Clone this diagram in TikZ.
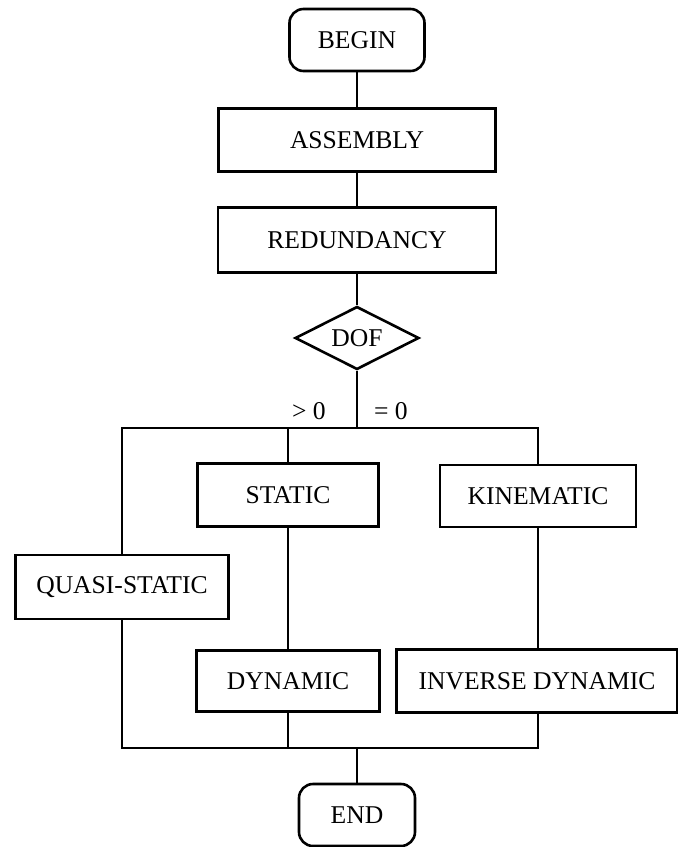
\documentclass[tikz,border=0pt]{standalone}
\usepackage{fontspec}
\setmainfont{Liberation Serif}
\usetikzlibrary{shapes.geometric}
\tikzset{
	flowbox/.style={draw,line width=1.3pt,inner sep=0pt,font=\fontsize{12.8}{15}\selectfont},
	termbox/.style={flowbox,rounded corners=7pt},
	testbox/.style={flowbox,diamond,aspect=1.97,minimum width=62pt,minimum height=31.5pt},
	caselabel/.style={font=\fontsize{12.8}{15}\selectfont},
	wire/.style={line width=1.3pt}
}
\begin{document}
\begin{tikzpicture}[x=0.5pt,y=-0.5pt]
	\useasboundingbox (0,0) rectangle (678,847);
	% Main column
	\node[termbox,minimum width=67.5pt,minimum height=31pt] (begin) at (357,40) {BEGIN};
	\node[flowbox,minimum width=138.5pt,minimum height=31.5pt] (assembly) at (357,140) {ASSEMBLY};
	\node[flowbox,minimum width=139pt,minimum height=32.5pt] (redundancy) at (357,240) {REDUNDANCY};
	\node[testbox] (dof) at (357,338) {DOF};
	
	\coordinate (fork) at (357,428); % Branches leave from here
	\coordinate (join) at (357,748); % ...and meet again here
	\node[caselabel] (gtzero) at (309,411) {> 0};
	\node[caselabel] (eqzero) at (391,411) {= 0};
	
	% Branches
	\node[flowbox,minimum width=106.5pt,minimum height=32pt] (quasistatic) at (122,587) {QUASI-STATIC};
	\node[flowbox,minimum width=90.5pt,minimum height=31.5pt] (static) at (288,495) {STATIC};
	\node[flowbox,minimum width=91.5pt,minimum height=30.5pt] (dynamic) at (288,681) {DYNAMIC};
	\node[flowbox,minimum width=98pt,minimum height=31pt] (kinematic) at (538,496) {KINEMATIC};
	\node[flowbox,minimum width=140.5pt,minimum height=31.5pt] (inversedynamic) at (537,681) {INVERSE DYNAMIC};
	
	\node[termbox,minimum width=58pt,minimum height=31pt] (end) at (357,815) {END};
	
	\draw[wire] (begin) -- (assembly);
	\draw[wire] (assembly) -- (redundancy);
	\draw[wire] (redundancy) -- (dof);
	\draw[wire] (dof) -- (fork);
	\draw[wire] (quasistatic) |- (fork) -| (kinematic);
	\draw[wire] (static) -- (static |- fork);
	\draw[wire] (static) -- (dynamic);
	\draw[wire] (kinematic) -- (kinematic |- inversedynamic.north);
	\draw[wire] (quasistatic) |- (join) -| (kinematic |- inversedynamic.south);
	\draw[wire] (dynamic) -- (dynamic |- join);
	\draw[wire] (join) -- (end);
\end{tikzpicture}
\end{document}
